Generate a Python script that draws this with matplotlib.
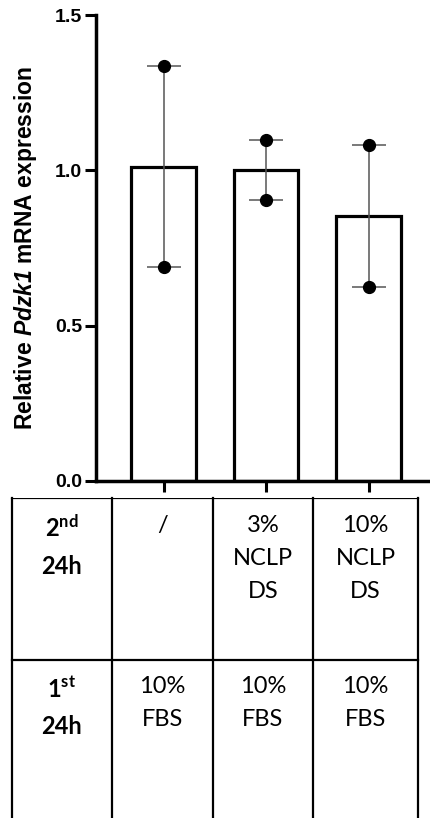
import numpy as np
import matplotlib
matplotlib.use("Agg")
import matplotlib.pyplot as plt

plt.rcParams['font.family'] = ['Liberation Sans', 'DejaVu Sans']
plt.rcParams['mathtext.fontset'] = 'custom'
plt.rcParams['mathtext.it'] = 'Liberation Sans:italic:bold'
plt.rcParams['mathtext.rm'] = 'Liberation Sans:italic:bold'
plt.rcParams['mathtext.bf'] = 'Lato:bold'

# datos
grupos = ['/', '3%\nNCLP\nDS', '10%\nNCLP\nDS']
medias = [1.012, 1.000, 0.853]
rep_alta = [1.335, 1.097, 1.081]
rep_baja = [0.690, 0.903, 0.626]
fila_1 = ['10%\nFBS', '10%\nFBS', '10%\nFBS']
etiq_2 = r'$\mathbf{2^{nd}}$' + '\n24h'
etiq_1 = r'$\mathbf{1^{st}}$' + '\n24h'
yticks = [0.0, 0.5, 1.0, 1.5]

W, H = 430, 818
fig = plt.figure(figsize=(W / 100, H / 100), dpi=100)

# grafica de barras
ax = fig.add_axes([96 / W, 1 - 481 / H, 334 / W, 466 / H])
x = np.arange(len(medias))
medias = np.array(medias)
alta = np.array(rep_alta)
baja = np.array(rep_baja)

ax.bar(x, medias, width=0.63, color='white', edgecolor='black', linewidth=2.3, zorder=2)
ax.errorbar(x, medias, yerr=[medias - baja, alta - medias],
            fmt='none', ecolor='#555555', elinewidth=1.1, capsize=12, capthick=1.1, zorder=3)
for xi, a, b in zip(x, alta, baja):
    ax.plot([xi, xi], [a, b], 'o', color='black', markersize=8.5, zorder=4)

ax.set_xlim(-0.66, 2.6)
ax.set_ylim(0, 1.5)
ax.set_yticks(yticks)
ax.set_yticklabels([f'{v:.1f}' for v in yticks], fontweight='bold', fontsize=14)
ax.set_xticks(x)
ax.set_xticklabels([])
ax.tick_params(axis='both', direction='out', length=8, width=2.2, pad=2)
for s in ['top', 'right']:
    ax.spines[s].set_visible(False)
for s in ['left', 'bottom']:
    ax.spines[s].set_linewidth(2.5)
fig.text(26 / W, 1 - 248 / H, r'Relative $\mathit{Pdzk1}$ mRNA expression',
         rotation=90, ha='center', va='center', fontweight='bold', fontsize=16.5)

# tabla de condiciones
tb = fig.add_axes([0, 0, 1, 1 - 498 / H])
tb.set_xlim(0, W)
tb.set_ylim(H, 498)
tb.axis('off')
cols = [12, 112, 213, 313, 418]
filas = [498, 660]
for cx in cols:
    tb.plot([cx, cx], [498, H], color='black', linewidth=1.6, clip_on=False)
for fy in filas:
    tb.plot([cols[0], cols[-1]], [fy, fy], color='black', linewidth=1.6)

centros = [(cols[i] + cols[i + 1]) / 2 for i in range(4)]
txt = dict(ha='center', va='top', fontsize=17, family='Lato', linespacing=1.72)
tb.text(centros[0], 515, etiq_2, fontweight='bold', **txt)
tb.text(centros[0], 676, etiq_1, fontweight='bold', **txt)
for c, g, f in zip(centros[1:], grupos, fila_1):
    tb.text(c, 515, g, **txt)
    tb.text(c, 676, f, **txt)

fig.savefig('out.png', dpi=100)
